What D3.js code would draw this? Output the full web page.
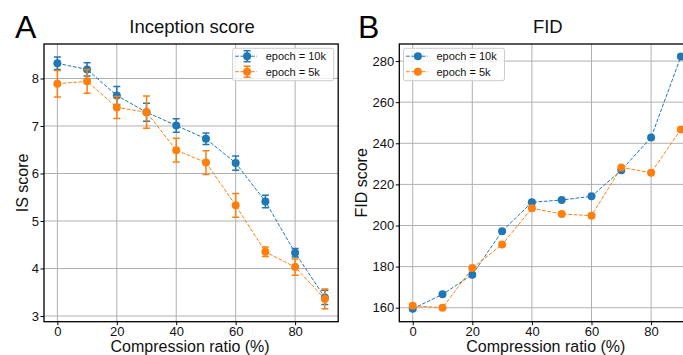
<!DOCTYPE html>
<html>
<head>
<meta charset="utf-8">
<script src="https://cdn.jsdelivr.net/npm/d3@7"></script>
<style>
  body { margin: 0; background: #fff; }
  svg { display: block; font-family: "Liberation Sans", Arial, sans-serif; }
</style>
</head>
<body>
<div id="chart"></div>
<script>
// ---- data ----
const ratios = [0, 10, 20, 30, 40, 50, 60, 70, 80, 90];
const seriesNames = ["epoch = 10k", "epoch = 5k"];
const seriesColors = ["#1f77b4", "#ff7f0e"];

// Inception score (mean / error)
const isMean10k = [8.32, 8.19, 7.64, 7.29, 7.01, 6.73, 6.22, 5.41, 4.33, 3.39];
const isErr10k  = [0.13, 0.14, 0.19, 0.19, 0.14, 0.12, 0.15, 0.13, 0.09, 0.15];
const isMean5k  = [7.89, 7.94, 7.39, 7.29, 6.49, 6.23, 5.33, 4.35, 4.03, 3.36];
const isErr5k   = [0.28, 0.25, 0.23, 0.34, 0.25, 0.25, 0.25, 0.10, 0.17, 0.21];

// FID
const fid10k = [159.5, 166.5, 176.1, 197.2, 211.3, 212.4, 214.2, 226.9, 242.8, 282.2];
const fid5k  = [161.0, 160.0, 179.3, 190.7, 208.4, 205.6, 204.8, 228.2, 225.7, 246.7];

const xTicks = [0, 20, 40, 60, 80];
const isTicks = [3, 4, 5, 6, 7, 8];
const fidTicks = [160, 180, 200, 220, 240, 260, 280];

// ---- layout ----
const W = 683, H = 355;
const svg = d3.select("#chart").append("svg").attr("width", W).attr("height", H);

const gridColor = "#b0b0b0";

function drawPanel(cfg) {
  const x = d3.scaleLinear().domain([-4.5, 94.5]).range([cfg.left, cfg.right]);
  const y = d3.scaleLinear().domain(cfg.yDomain).range([cfg.bottom, cfg.top]);
  const g = svg.append("g");

  // clip to axes box
  const clipId = "clip-" + cfg.letter;
  svg.append("clipPath").attr("id", clipId).append("rect")
    .attr("x", cfg.left).attr("y", cfg.top)
    .attr("width", cfg.right - cfg.left).attr("height", cfg.bottom - cfg.top);

  // grid
  g.append("g").selectAll("line").data(xTicks).join("line")
    .attr("x1", d => x(d)).attr("x2", d => x(d))
    .attr("y1", cfg.top).attr("y2", cfg.bottom)
    .attr("stroke", gridColor).attr("stroke-width", 1);
  g.append("g").selectAll("line").data(cfg.yTicks).join("line")
    .attr("x1", cfg.left).attr("x2", cfg.right)
    .attr("y1", d => y(d)).attr("y2", d => y(d))
    .attr("stroke", gridColor).attr("stroke-width", 1);

  // series
  const plot = g.append("g").attr("clip-path", `url(#${clipId})`);
  cfg.series.forEach((s, i) => {
    const color = seriesColors[i];
    const pts = ratios.map((r, k) => ({ x: r, y: s.mean[k], e: s.err ? s.err[k] : 0 }));
    const sg = plot.append("g");
    if (s.err) {
      const eb = sg.append("g").attr("stroke", color).attr("stroke-width", 1.5);
      eb.selectAll(".v").data(pts).join("line")
        .attr("x1", d => x(d.x)).attr("x2", d => x(d.x))
        .attr("y1", d => y(d.y - d.e)).attr("y2", d => y(d.y + d.e));
      eb.selectAll(".ct").data(pts).join("line")
        .attr("x1", d => x(d.x) - 3.5).attr("x2", d => x(d.x) + 3.5)
        .attr("y1", d => y(d.y + d.e)).attr("y2", d => y(d.y + d.e));
      eb.selectAll(".cb").data(pts).join("line")
        .attr("x1", d => x(d.x) - 3.5).attr("x2", d => x(d.x) + 3.5)
        .attr("y1", d => y(d.y - d.e)).attr("y2", d => y(d.y - d.e));
    }
    sg.append("path").datum(pts)
      .attr("fill", "none").attr("stroke", color).attr("stroke-width", 1)
      .attr("stroke-dasharray", "3.7,1.6")
      .attr("d", d3.line().x(d => x(d.x)).y(d => y(d.y)));
    sg.selectAll("circle").data(pts).join("circle")
      .attr("cx", d => x(d.x)).attr("cy", d => y(d.y)).attr("r", 4)
      .attr("fill", color);
  });

  // axes
  const xAxis = g.append("g").attr("transform", `translate(0,${cfg.bottom})`)
    .call(d3.axisBottom(x).tickValues(xTicks).tickFormat(d3.format("d"))
      .tickSize(3.5).tickPadding(2));
  const yAxis = g.append("g").attr("transform", `translate(${cfg.left},0)`)
    .call(d3.axisLeft(y).tickValues(cfg.yTicks).tickFormat(d3.format("d"))
      .tickSize(3.5).tickPadding(1.5));
  [xAxis, yAxis].forEach(a => {
    a.select(".domain").remove();
    a.selectAll("line").attr("stroke", "#000").attr("stroke-width", 1);
    a.selectAll("text").attr("font-size", 13).attr("fill", "#111")
      .attr("font-family", "Liberation Sans, Arial, sans-serif");
  });

  // frame
  g.append("rect")
    .attr("x", cfg.left).attr("y", cfg.top)
    .attr("width", cfg.right - cfg.left).attr("height", cfg.bottom - cfg.top)
    .attr("fill", "none").attr("stroke", "#000").attr("stroke-width", 1.3);

  // labels
  const cx = (cfg.left + cfg.right) / 2;
  g.append("text").attr("x", cx + 1).attr("y", 32.5).attr("text-anchor", "middle")
    .attr("font-size", 18.5).attr("fill", "#111").text(cfg.title);
  g.append("text").attr("x", cx - 1).attr("y", 352).attr("text-anchor", "middle")
    .attr("font-size", 16).attr("fill", "#111").text("Compression ratio (%)");
  g.append("text")
    .attr("transform", `translate(${cfg.yLabelX},${(cfg.top + cfg.bottom) / 2}) rotate(-90)`)
    .attr("text-anchor", "middle").attr("font-size", 16).attr("fill", "#111")
    .text(cfg.yLabel);
  g.append("text").attr("x", cfg.letterX).attr("y", 38.3)
    .attr("font-size", 32).attr("fill", "#000").text(cfg.letter);

  // legend
  const lg = g.append("g").attr("transform", `translate(${cfg.legendX},48.3)`);
  lg.append("rect").attr("width", 101).attr("height", 32.4).attr("rx", 2)
    .attr("fill", "#fff").attr("fill-opacity", 0.8)
    .attr("stroke", "#ccc").attr("stroke-width", 1);
  seriesNames.forEach((name, i) => {
    const ry = 7.9 + i * 15.5;
    const color = seriesColors[i];
    lg.append("line").attr("x1", 2.5).attr("x2", 24.3).attr("y1", ry).attr("y2", ry)
      .attr("stroke", color).attr("stroke-width", 1).attr("stroke-dasharray", "3.7,1.6");
    if (cfg.series[i].err) {
      lg.append("line").attr("x1", 14.4).attr("x2", 14.4).attr("y1", ry - 5.5).attr("y2", ry + 5.5)
        .attr("stroke", color).attr("stroke-width", 1.5);
      [-5.5, 5.5].forEach(dy => lg.append("line")
        .attr("x1", 10.9).attr("x2", 17.9).attr("y1", ry + dy).attr("y2", ry + dy)
        .attr("stroke", color).attr("stroke-width", 1.5));
    }
    lg.append("circle").attr("cx", 14.4).attr("cy", ry).attr("r", 4).attr("fill", color);
    lg.append("text").attr("x", 33).attr("y", ry).attr("dy", "0.35em")
      .attr("font-size", 11).attr("fill", "#111").text(name);
  });
}

drawPanel({
  letter: "A", letterX: 15,
  left: 44, right: 338.2, top: 44, bottom: 321.7,
  yDomain: [2.88, 8.726], yTicks: isTicks,
  title: "Inception score", yLabel: "IS score", yLabelX: 28,
  legendX: 232.7,
  series: [
    { mean: isMean10k, err: isErr10k },
    { mean: isMean5k, err: isErr5k }
  ]
});

drawPanel({
  letter: "B", letterX: 358,
  left: 399.3, right: 694.3, top: 44, bottom: 321.7,
  yDomain: [153.2, 288.3], yTicks: fidTicks,
  title: "FID", yLabel: "FID score", yLabelX: 367,
  legendX: 403.5,
  series: [
    { mean: fid10k, err: null },
    { mean: fid5k, err: null }
  ]
});
</script>
</body>
</html>
